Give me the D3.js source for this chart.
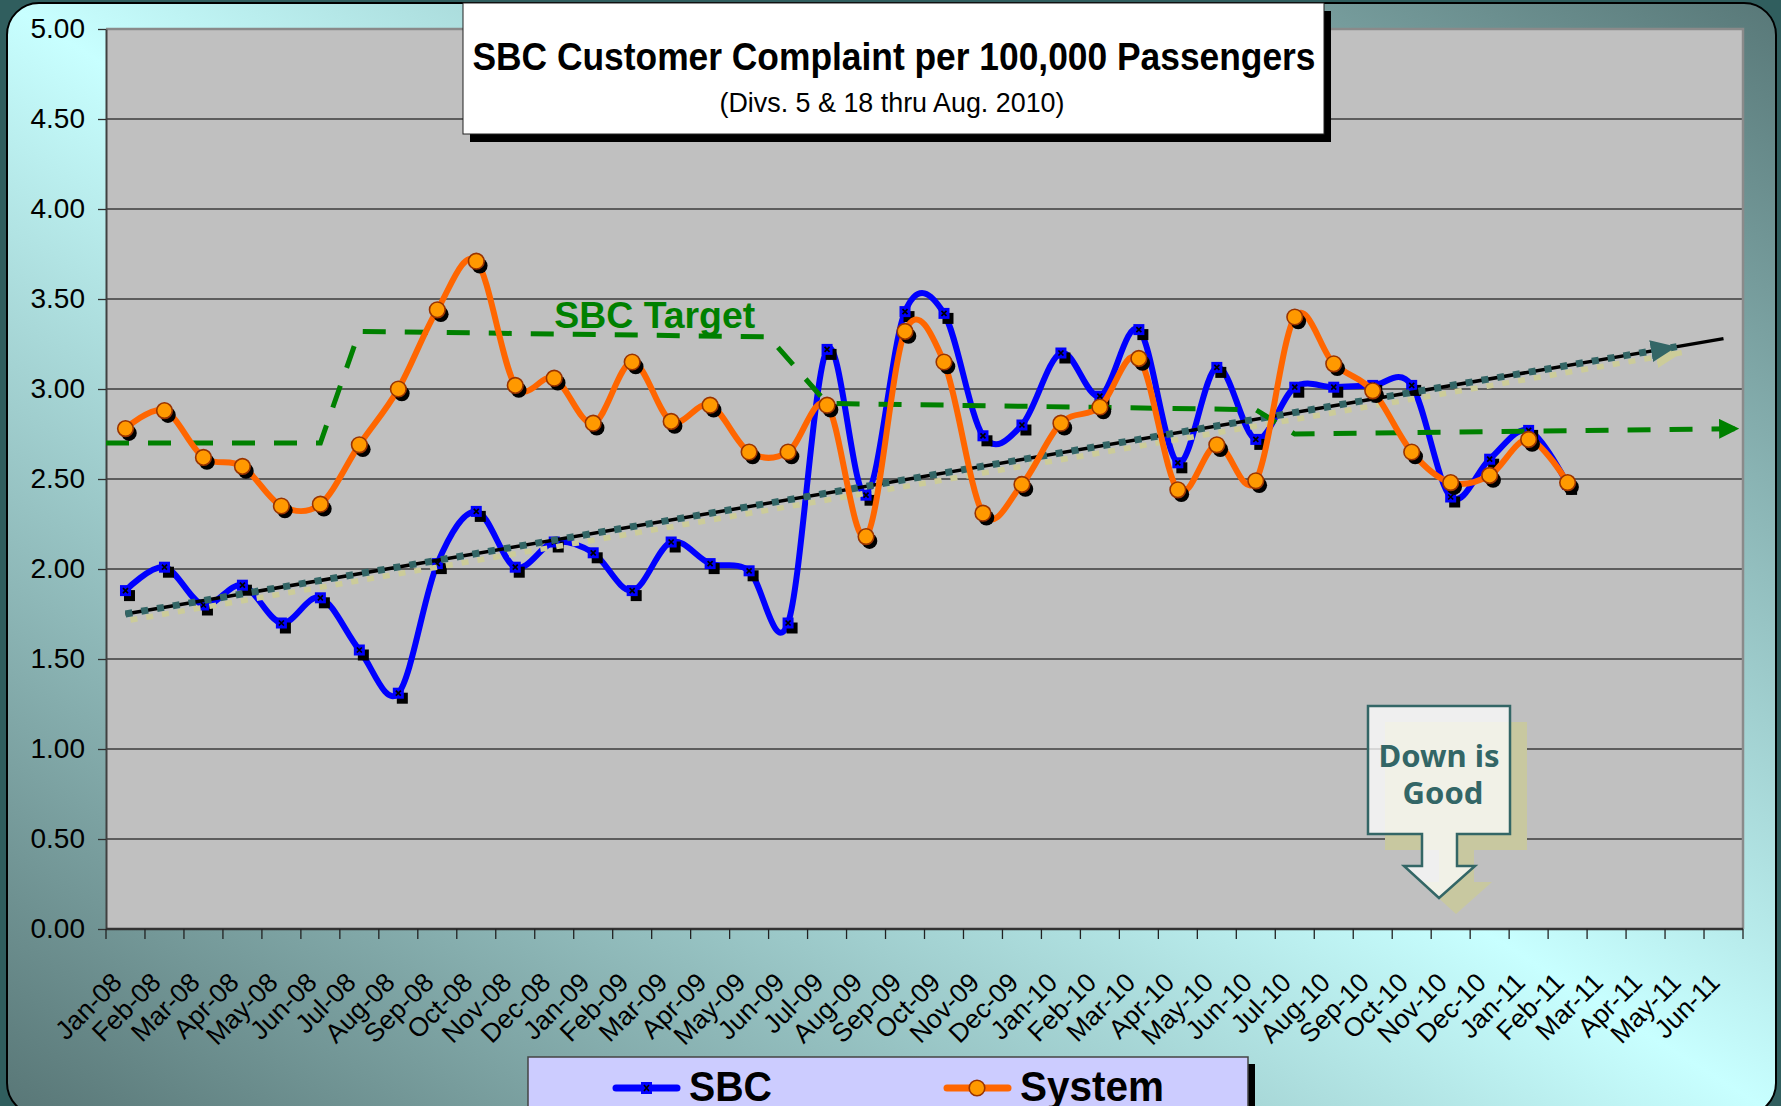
<!DOCTYPE html>
<html><head><meta charset="utf-8">
<script src="https://cdn.jsdelivr.net/npm/d3@7"></script>
<style>html,body{margin:0;padding:0;background:#305e5e;overflow:hidden}svg{display:block}</style>
</head><body>
<svg id="chart" width="1781" height="1106"></svg>
<script>
// ---------------- data ----------------
const months = ["Jan-08","Feb-08","Mar-08","Apr-08","May-08","Jun-08","Jul-08","Aug-08","Sep-08","Oct-08","Nov-08","Dec-08",
  "Jan-09","Feb-09","Mar-09","Apr-09","May-09","Jun-09","Jul-09","Aug-09","Sep-09","Oct-09","Nov-09","Dec-09",
  "Jan-10","Feb-10","Mar-10","Apr-10","May-10","Jun-10","Jul-10","Aug-10","Sep-10","Oct-10","Nov-10","Dec-10",
  "Jan-11","Feb-11","Mar-11","Apr-11","May-11","Jun-11"];
const sbcValues = [1.88,2.01,1.80,1.91,1.70,1.84,1.55,1.31,2.03,2.32,2.01,2.15,
  2.09,1.88,2.15,2.03,1.99,1.70,3.22,2.41,3.43,3.42,2.74,2.80,
  3.20,2.96,3.33,2.59,3.12,2.72,3.01,3.01,3.02,3.02,2.40,2.61,
  2.77,2.47];
const systemValues = [2.78,2.88,2.62,2.57,2.35,2.36,2.69,3.00,3.44,3.71,3.02,3.06,
  2.81,3.15,2.82,2.91,2.65,2.65,2.91,2.18,3.32,3.15,2.31,2.47,
  2.81,2.90,3.17,2.44,2.69,2.49,3.40,3.14,2.99,2.65,2.48,2.52,
  2.72,2.48];
const yTickValues = [0,0.5,1,1.5,2,2.5,3,3.5,4,4.5,5];
// SBC target (month index, value)
const targetAt = [-0.5,5,6,16.5,18,29,30,41.4];
const targetValues = [2.70,2.70,3.32,3.29,2.92,2.885,2.75,2.78];
// linear trend (month index, value)
const trendAt = [0,41];
const trendValues = [1.75,3.28];
const trendArrowAt = 39.8;
const seriesNames = ["SBC","System"];
const titleText = "SBC Customer Complaint per 100,000 Passengers";
const subtitleText = "(Divs. 5 & 18 thru Aug. 2010)";
const targetLabel = "SBC Target";
const calloutLines = ["Down is","Good"];

// ---------------- layout ----------------
const W = 1781, H = 1106;
const P = {left:106, right:1743, top:29, bottom:929};
const svg = d3.select("#chart");
const defs = svg.append("defs");

const x = d3.scaleBand().domain(months).range([P.left, P.right]).padding(0);
const bw = x.bandwidth();
const cx = m => x(m) + bw/2;
const xi = d3.scaleLinear().domain([-0.5, months.length - 0.5]).range([P.left, P.right]);
const y = d3.scaleLinear().domain([0,5]).range([P.bottom, P.top]);

// gradient background
const g1 = defs.append("linearGradient").attr("id","bg").attr("x1",0).attr("y1",1).attr("x2",1).attr("y2",0);
g1.append("stop").attr("offset",0).attr("stop-color","#587676");
g1.append("stop").attr("offset",0.5).attr("stop-color","#c8ffff");
g1.append("stop").attr("offset",1).attr("stop-color","#587878");

function arrowMarker(id, color, len, wid){
  const mk = defs.append("marker").attr("id",id).attr("markerUnits","userSpaceOnUse")
    .attr("viewBox",`0 0 ${len} ${wid}`).attr("markerWidth",len).attr("markerHeight",wid)
    .attr("refX",len).attr("refY",wid/2).attr("orient","auto");
  mk.append("path").attr("d",`M0,0L${len},${wid/2}L0,${wid}Z`).attr("fill",color);
}
arrowMarker("arrGreen","#008000",20,20);
arrowMarker("arrTeal","#336666",26,22);
arrowMarker("arrKhaki","#cccc99",26,22);

svg.append("rect").attr("width",W).attr("height",H).attr("fill","#305e5e");
svg.append("rect").attr("x",7).attr("y",3).attr("width",1769).attr("height",1112).attr("rx",32)
  .attr("fill","url(#bg)").attr("stroke","#000").attr("stroke-width",2);

// plot area
svg.append("rect").attr("x",P.left).attr("y",P.top).attr("width",P.right-P.left).attr("height",P.bottom-P.top)
  .attr("fill","#c0c0c0");
// gridlines
svg.append("g").selectAll("line").data(yTickValues.filter(v=>v>0 && v<5)).join("line")
  .attr("x1",P.left).attr("x2",P.right).attr("y1",d=>y(d)).attr("y2",d=>y(d))
  .attr("stroke","#3c3c3c").attr("stroke-width",1.3);
// top & right border
svg.append("path").attr("d",`M${P.left},${P.top}H${P.right}V${P.bottom}`).attr("fill","none")
  .attr("stroke","#8a8a8a").attr("stroke-width",2.5);

// y axis
const yAxis = svg.append("g").attr("transform",`translate(${P.left},0)`)
  .call(d3.axisLeft(y).tickValues(yTickValues).tickFormat(d3.format(".2f")).tickSize(8).tickSizeOuter(0).tickPadding(13));
yAxis.select(".domain").attr("stroke","#404040").attr("stroke-width",2);
yAxis.selectAll(".tick line").attr("stroke","#303030").attr("stroke-width",1.3);
yAxis.selectAll("text").attr("font-family","'Liberation Sans',Arial,sans-serif").attr("font-size",28).attr("fill","#000");

// x axis
const xg = svg.append("g");
xg.append("line").attr("x1",P.left).attr("x2",P.right).attr("y1",P.bottom).attr("y2",P.bottom)
  .attr("stroke","#333").attr("stroke-width",2.5);
const bounds = months.map(m=>x(m)).concat([P.right]);
xg.selectAll("line.tk").data(bounds).join("line").attr("class","tk")
  .attr("x1",d=>d).attr("x2",d=>d).attr("y1",P.bottom).attr("y2",P.bottom+10)
  .attr("stroke","#222").attr("stroke-width",1.3);
xg.selectAll("text").data(months).join("text")
  .attr("transform",d=>`translate(${cx(d)-2},${P.bottom+55}) rotate(-45)`)
  .attr("text-anchor","end").attr("font-family","'Liberation Sans',Arial,sans-serif").attr("font-size",26.5)
  .attr("fill","#000").text(d=>d);

// callout "Down is Good"
const co = {l:1368,r:1510,t:706,b:834,sl:1422,sr:1457,hb:866,hl:1404,hr:1475,tip:898,tx:1439};
const coPath = `M${co.l},${co.t}H${co.r}V${co.b}H${co.sr}V${co.hb}H${co.hr}L${co.tx},${co.tip}L${co.hl},${co.hb}H${co.sl}V${co.b}H${co.l}Z`;
const cog = svg.append("g");
cog.append("path").attr("d",coPath).attr("transform","translate(17,16)").attr("fill","#c8c8a0");
cog.append("path").attr("d",coPath).attr("fill","#ffffff").attr("fill-opacity",0.75)
  .attr("stroke","#336666").attr("stroke-width",2.5);
cog.append("text").attr("x",co.tx).attr("y",767).attr("text-anchor","middle").attr("fill","#336666")
  .attr("font-family","'Noto Sans','Open Sans',sans-serif").attr("font-weight","bold").attr("font-size",31).text(calloutLines[0]);
cog.append("text").attr("x",co.tx+4).attr("y",804).attr("text-anchor","middle").attr("fill","#336666")
  .attr("font-family","'Noto Sans','Open Sans',sans-serif").attr("font-weight","bold").attr("font-size",31).text(calloutLines[1]);

// curve
const curve = d3.curveCardinal.tension(0);
const sbcData = sbcValues.map((v,i)=>({m:months[i],v}));
const sysData = systemValues.map((v,i)=>({m:months[i],v}));
const lineGen = d3.line().x(d=>cx(d.m)).y(d=>y(d.v)).curve(curve);

// SBC series
svg.append("path").datum(sbcData).attr("d",lineGen).attr("fill","none").attr("stroke","#0000ff")
  .attr("stroke-width",6).attr("stroke-linejoin","round");
function sbcMarker(g, px, py){
  g.append("rect").attr("x",px-5.5+4).attr("y",py-5.5+5).attr("width",11).attr("height",11).attr("fill","#000");
  g.append("rect").attr("x",px-5.5).attr("y",py-5.5).attr("width",11).attr("height",11).attr("fill","#0000ff");
  g.append("path").attr("d",`M${px-2.5},${py-2.5}L${px+2.5},${py+2.5}M${px+2.5},${py-2.5}L${px-2.5},${py+2.5}`)
    .attr("stroke","#000").attr("stroke-width",1.7);
}
const sbcG = svg.append("g");
sbcData.forEach(d=>sbcMarker(sbcG, cx(d.m), y(d.v)));

// trend lines
const trendScale = d3.scaleLinear().domain(trendAt).range(trendValues);
const trendLine = d3.line().x(d=>xi(d[0])).y(d=>y(d[1]));
const trendFull = trendAt.map((a,i)=>[a,trendValues[i]]);
const trendArrow = [[trendAt[0],trendValues[0]],[trendArrowAt,trendScale(trendArrowAt)]];
svg.append("path").attr("d",trendLine(trendArrow)).attr("transform","translate(5,6)").attr("fill","none")
  .attr("stroke","#cccc99").attr("stroke-width",5.5).attr("stroke-dasharray","7,9").attr("marker-end","url(#arrKhaki)");
svg.append("path").attr("d",trendLine(trendFull)).attr("fill","none")
  .attr("stroke","#000").attr("stroke-width",3.5);
svg.append("path").attr("d",trendLine(trendArrow)).attr("fill","none")
  .attr("stroke","#336666").attr("stroke-width",7).attr("stroke-dasharray","7,9").attr("marker-end","url(#arrTeal)");

// target line
const targetData = targetAt.map((a,i)=>[a,targetValues[i]]);
svg.append("path").attr("d",d3.line().x(d=>xi(d[0])).y(d=>y(d[1]))(targetData)).attr("fill","none")
  .attr("stroke","#008000").attr("stroke-width",5).attr("stroke-dasharray","23,19").attr("marker-end","url(#arrGreen)");
svg.append("text").attr("x",cx("Dec-08")).attr("y",y(3.34)).attr("fill","#008000")
  .attr("font-family","'Liberation Sans',Arial,sans-serif").attr("font-weight","bold").attr("font-size",36)
  .attr("textLength",201).attr("lengthAdjust","spacingAndGlyphs").text(targetLabel);

// System series
svg.append("path").datum(sysData).attr("d",lineGen).attr("fill","none").attr("stroke","#ff6600")
  .attr("stroke-width",6).attr("stroke-linejoin","round");
function sysMarker(g, px, py, shadow){
  if(shadow) g.append("circle").attr("cx",px+3.5).attr("cy",py+4.5).attr("r",7.8).attr("fill","#000");
  g.append("circle").attr("cx",px).attr("cy",py).attr("r",7.8).attr("fill","#ff9900")
    .attr("stroke","#993300").attr("stroke-width",1.6);
}
const sysG = svg.append("g");
sysData.forEach(d=>sysMarker(sysG, cx(d.m), y(d.v), true));

// title box
svg.append("rect").attr("x",470).attr("y",11).attr("width",861).attr("height",131).attr("fill","#000");
svg.append("rect").attr("x",463).attr("y",3).attr("width",861).attr("height",131).attr("fill","#fff")
  .attr("stroke","#222").attr("stroke-width",1);
svg.append("text").attr("x",894).attr("y",70).attr("text-anchor","middle")
  .attr("font-family","'Liberation Sans Narrow','Liberation Sans',Arial,sans-serif").attr("font-weight","bold")
  .attr("font-size",38).attr("textLength",843).attr("lengthAdjust","spacingAndGlyphs").text(titleText);
svg.append("text").attr("x",892).attr("y",112).attr("text-anchor","middle")
  .attr("font-family","'Liberation Sans Narrow','Liberation Sans',Arial,sans-serif")
  .attr("font-size",27).attr("textLength",345).attr("lengthAdjust","spacingAndGlyphs").text(subtitleText);

// legend
const lg = svg.append("g");
lg.append("rect").attr("x",535).attr("y",1064).attr("width",720).attr("height",70).attr("fill","#000");
lg.append("rect").attr("x",528).attr("y",1057).attr("width",720).attr("height",70).attr("fill","#ccccff")
  .attr("stroke","#444").attr("stroke-width",1.5);
lg.append("line").attr("x1",616).attr("x2",677).attr("y1",1088).attr("y2",1088).attr("stroke","#0000ff")
  .attr("stroke-width",7).attr("stroke-linecap","round");
lg.append("rect").attr("x",641).attr("y",1082).attr("width",11).attr("height",12).attr("fill","#0000ff");
lg.append("path").attr("d","M644,1085L649,1091M649,1085L644,1091").attr("stroke","#000").attr("stroke-width",1.6);
lg.append("text").attr("x",689).attr("y",1101).attr("font-family","'Liberation Sans Narrow','Liberation Sans',Arial,sans-serif")
  .attr("font-weight","bold").attr("font-size",42).attr("textLength",83).attr("lengthAdjust","spacingAndGlyphs").text(seriesNames[0]);
lg.append("line").attr("x1",947).attr("x2",1008).attr("y1",1088).attr("y2",1088).attr("stroke","#ff6600")
  .attr("stroke-width",7).attr("stroke-linecap","round");
sysMarker(lg, 977, 1088, false);
lg.append("text").attr("x",1020).attr("y",1101).attr("font-family","'Liberation Sans Narrow','Liberation Sans',Arial,sans-serif")
  .attr("font-weight","bold").attr("font-size",42).attr("textLength",144).attr("lengthAdjust","spacingAndGlyphs").text(seriesNames[1]);
</script>
</body></html>
